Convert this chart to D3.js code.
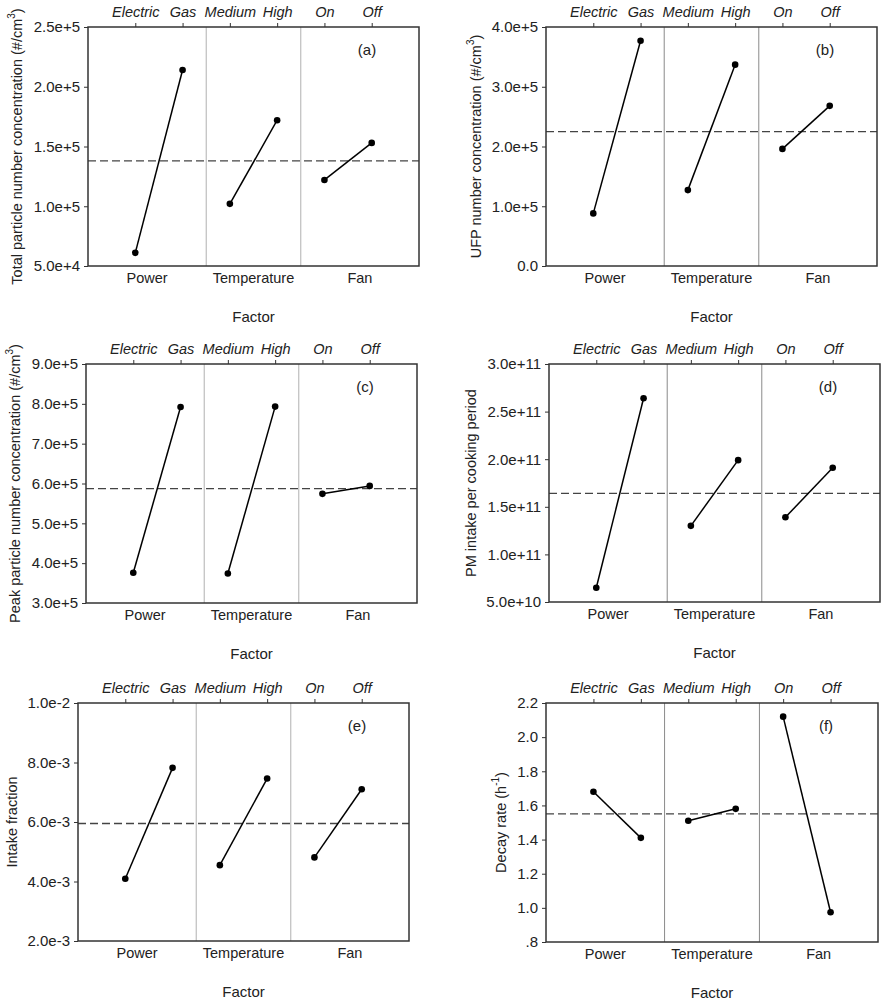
<!DOCTYPE html>
<html>
<head>
<meta charset="utf-8">
<script src="https://cdn.jsdelivr.net/npm/d3@7"></script>
<style>
  body { margin: 0; background: #fff; }
  svg { display: block; font-family: "Liberation Sans", Arial, sans-serif; }
</style>
</head>
<body>
<svg width="886" height="1000"></svg>
<script>
// factor levels along the top, factors along the bottom
const levels = ['Electric', 'Gas', 'Medium', 'High', 'On', 'Off']
const factors = ['Power', 'Temperature', 'Fan']

// main-effect means, one value per level
const totalPN = [6.1e4, 2.14e5, 1.02e5, 1.72e5, 1.22e5, 1.53e5]
const ufpPN = [8.8e4, 3.77e5, 1.27e5, 3.37e5, 1.96e5, 2.68e5]
const peakPN = [3.76e5, 7.92e5, 3.74e5, 7.93e5, 5.74e5, 5.94e5]
const pmIntake = [6.5e10, 2.64e11, 1.30e11, 1.99e11, 1.39e11, 1.91e11]
const intakeFraction = [4.09e-3, 7.82e-3, 4.55e-3, 7.46e-3, 4.81e-3, 7.10e-3]
const decayRate = [1.68, 1.41, 1.51, 1.58, 2.12, 0.974]

// grand mean (dashed line) for each panel
const grandMeans = [1.38e5, 2.25e5, 5.87e5, 1.64e11, 5.95e-3, 1.55]

// y ticks and their labels
const ticksA = [5e4, 1e5, 1.5e5, 2e5, 2.5e5]
const labelsA = ['5.0e+4', '1.0e+5', '1.5e+5', '2.0e+5', '2.5e+5']
const ticksB = [0, 1e5, 2e5, 3e5, 4e5]
const labelsB = ['0.0', '1.0e+5', '2.0e+5', '3.0e+5', '4.0e+5']
const ticksC = [3e5, 4e5, 5e5, 6e5, 7e5, 8e5, 9e5]
const labelsC = ['3.0e+5', '4.0e+5', '5.0e+5', '6.0e+5', '7.0e+5', '8.0e+5', '9.0e+5']
const ticksD = [5e10, 1e11, 1.5e11, 2e11, 2.5e11, 3e11]
const labelsD = ['5.0e+10', '1.0e+11', '1.5e+11', '2.0e+11', '2.5e+11', '3.0e+11']
const ticksE = [2e-3, 4e-3, 6e-3, 8e-3, 1e-2]
const labelsE = ['2.0e-3', '4.0e-3', '6.0e-3', '8.0e-3', '1.0e-2']
const ticksF = [0.8, 1.0, 1.2, 1.4, 1.6, 1.8, 2.0, 2.2]
const labelsF = ['.8', '1.0', '1.2', '1.4', '1.6', '1.8', '2.0', '2.2']

const svg = d3.select('svg')

// layout for each panel
const panels = [
  { tag: '(a)', values: totalPN, ticks: ticksA, labels: labelsA, mean: grandMeans[0],
    title: ['Total particle number concentration (#/cm', '3', ')'],
    L: 88, R: 419, T: 27, B: 266, ylabX: 71, sep: '#b0b0b0' },
  { tag: '(b)', values: ufpPN, ticks: ticksB, labels: labelsB, mean: grandMeans[1],
    title: ['UFP number concentration (#/cm', '3', ')'],
    L: 546, R: 877, T: 27, B: 266, ylabX: 70, sep: '#8a8a8a' },
  { tag: '(c)', values: peakPN, ticks: ticksC, labels: labelsC, mean: grandMeans[2],
    title: ['Peak particle number concentration (#/cm', '3', ')'],
    L: 86, R: 417, T: 364, B: 603, ylabX: 71, sep: '#b0b0b0' },
  { tag: '(d)', values: pmIntake, ticks: ticksD, labels: labelsD, mean: grandMeans[3],
    title: ['PM intake per cooking period'],
    L: 549, R: 880, T: 364, B: 602, ylabX: 78, sep: '#8a8a8a' },
  { tag: '(e)', values: intakeFraction, ticks: ticksE, labels: labelsE, mean: grandMeans[4],
    title: ['Intake fraction'],
    L: 78, R: 409, T: 703, B: 941, ylabX: 66, sep: '#b0b0b0' },
  { tag: '(f)', values: decayRate, ticks: ticksF, labels: labelsF, mean: grandMeans[5],
    title: ['Decay rate (h', '-1', ')'],
    L: 546, R: 878, T: 703, B: 942, ylabX: 45, sep: '#8a8a8a' },
]

// factor regions in level-index units
const regions = [[0, 2.5], [2.5, 4.5], [4.5, 7]]

const drawPanel = (p) => {
  const g = svg.append('g')
  const x = d3.scaleLinear().domain([0, 7]).range([p.L, p.R])
  const y = d3.scaleLinear().domain(d3.extent(p.ticks)).range([p.B, p.T])

  // separators between factors
  g.selectAll('line.sep')
    .data([2.5, 4.5])
    .join('line')
    .attr('x1', (d) => x(d)).attr('x2', (d) => x(d))
    .attr('y1', p.T).attr('y2', p.B)
    .attr('stroke', p.sep).attr('stroke-width', 1)

  // grand mean
  g.append('line')
    .attr('x1', p.L).attr('x2', p.R)
    .attr('y1', y(p.mean)).attr('y2', y(p.mean))
    .attr('stroke', '#444').attr('stroke-width', 1.3)
    .attr('stroke-dasharray', '8,4')

  // left axis
  const yAxis = d3.axisLeft(y)
    .tickValues(p.ticks)
    .tickFormat((d, i) => p.labels[i])
    .tickSize(4).tickPadding(4)
  const ya = g.append('g').attr('transform', `translate(${p.L},0)`).call(yAxis)
  ya.select('.domain').remove()
  ya.selectAll('line').attr('stroke', '#333')
  ya.selectAll('text').attr('font-size', 15).attr('fill', '#222')
    .attr('font-family', '"Liberation Sans", Arial, sans-serif')

  // top axis with level names
  const xAxis = d3.axisTop(x)
    .tickValues(d3.range(1, 7))
    .tickFormat((d) => levels[d - 1])
    .tickSize(4).tickPadding(6)
  const xa = g.append('g').attr('transform', `translate(0,${p.T})`).call(xAxis)
  xa.select('.domain').remove()
  xa.selectAll('line').attr('stroke', '#333')
  xa.selectAll('text').attr('font-size', 14.5).attr('font-style', 'italic').attr('fill', '#222')
    .attr('font-family', '"Liberation Sans", Arial, sans-serif')

  // factor names below the box
  g.selectAll('text.factor')
    .data(factors)
    .join('text')
    .attr('x', (d, i) => x((regions[i][0] + regions[i][1]) / 2))
    .attr('y', p.B + 17)
    .attr('text-anchor', 'middle')
    .attr('font-size', 14.5).attr('fill', '#222')
    .text((d) => d)

  g.append('text')
    .attr('x', x(3.5)).attr('y', p.B + 56)
    .attr('text-anchor', 'middle')
    .attr('font-size', 15).attr('fill', '#222')
    .text('Factor')

  // y title
  const cy = (p.T + p.B) / 2
  const yt = g.append('text')
    .attr('transform', `translate(${p.L - p.ylabX},${cy}) rotate(-90)`)
    .attr('text-anchor', 'middle')
    .attr('dominant-baseline', 'central')
    .attr('font-size', 14.5).attr('fill', '#222')
  yt.append('tspan').text(p.title[0])
  if (p.title.length > 1) {
    yt.append('tspan').attr('font-size', 10).attr('dy', -6).text(p.title[1])
    yt.append('tspan').attr('dy', 6).text(p.title[2])
  }

  // panel tag
  g.append('text')
    .attr('x', p.R - 52).attr('y', p.T + 28)
    .attr('text-anchor', 'middle')
    .attr('font-size', 15).attr('fill', '#222')
    .text(p.tag)

  // one segment per factor
  const line = d3.line().x((d) => x(d.i)).y((d) => y(d.v))
  const pts = p.values.map((v, k) => ({ i: k + 1, v }))
  for (let f = 0; f < 3; f++) {
    g.append('path')
      .attr('d', line(pts.slice(f * 2, f * 2 + 2)))
      .attr('fill', 'none').attr('stroke', '#000').attr('stroke-width', 1.5)
  }
  g.selectAll('circle')
    .data(pts)
    .join('circle')
    .attr('cx', (d) => x(d.i)).attr('cy', (d) => y(d.v))
    .attr('r', 3.3).attr('fill', '#000')

  // frame
  g.append('rect')
    .attr('x', p.L).attr('y', p.T)
    .attr('width', p.R - p.L).attr('height', p.B - p.T)
    .attr('fill', 'none').attr('stroke', '#333').attr('stroke-width', 1.5)
}

panels.forEach(drawPanel)
</script>
</body>
</html>
